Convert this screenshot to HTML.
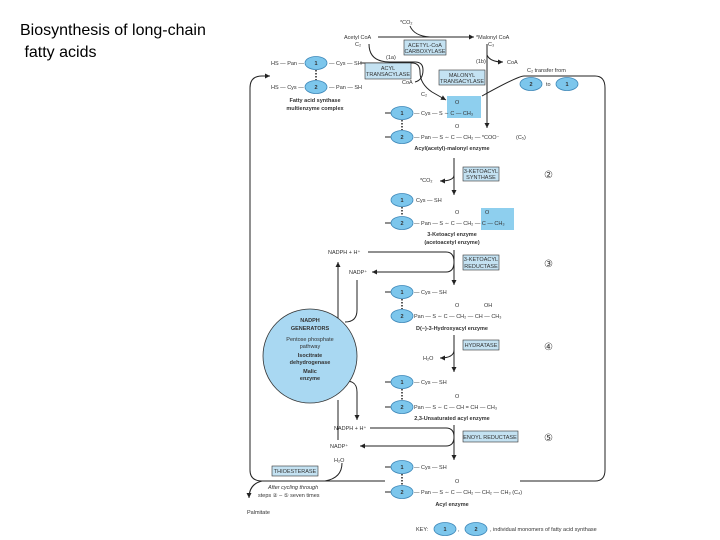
<!DOCTYPE html>
<html><head><style>
html,body{margin:0;padding:0;background:#fff;width:720px;height:540px;overflow:hidden}
.t{position:absolute;left:20px;font-family:"Liberation Sans",sans-serif;font-size:16px;color:#000}
svg{position:absolute;left:0;top:0}
svg text{font-family:"Liberation Sans",sans-serif;font-size:5.5px;fill:#333}
.b{font-weight:bold}
.c{font-size:10px}
</style></head><body>
<div class="t" style="top:22px">Biosynthesis of long-chain</div>
<div class="t" style="top:44px">&nbsp;fatty acids</div>
<svg width="720" height="540" viewBox="0 0 720 540">
<defs>
<marker id="a" markerWidth="6" markerHeight="6" refX="5" refY="3" orient="auto" markerUnits="userSpaceOnUse"><path d="M0,0.5 L5,3 L0,5.5z" fill="#222"/></marker>
<g id="e1"><ellipse rx="11" ry="6.5" fill="#7cc6ec" stroke="#3b86b8" stroke-width="0.8"/></g>
</defs>
<g fill="none" stroke="#222" stroke-width="1">
<path d="M268,76 L262,76 Q250,76 250,88 L250,470 Q250,481 262,481 L385,481"/>
<path d="M262,76 L270,76" marker-end="url(#a)"/>
<path d="M520,481 L595,481 Q605,481 605,470 L605,88 Q605,76 595,76 L524,76 Q518,76 482,96"/>
<path d="M378,37 L474,37" marker-end="url(#a)"/>
<path d="M410,26 Q414,36 430,37"/>
<path d="M369,44 Q369,62 390,62 L415,62 Q423,62 423,70 Q423,80 415,82"/>
<path d="M360,63 L412,63 Q420,63 420,72 Q420,84 432,92 L446,100" marker-end="url(#a)"/>
<path d="M487,44 L487,128" marker-end="url(#a)"/>
<path d="M487,55 Q490,62 503,62" marker-end="url(#a)"/>
<path d="M454,158 L454,195" marker-end="url(#a)"/>
<path d="M454,175 Q454,181 440,181" marker-end="url(#a)"/>
<path d="M454,250 L454,285" marker-end="url(#a)"/>
<path d="M368,252 L446,252 Q454,252 454,262 Q454,272 446,272 L372,272" marker-end="url(#a)"/>
<path d="M454,335 L454,372" marker-end="url(#a)"/>
<path d="M454,350 Q454,358 440,358" marker-end="url(#a)"/>
<path d="M454,425 L454,460" marker-end="url(#a)"/>
<path d="M370,428 L446,428 Q454,428 454,437 Q454,446 446,446 L360,446" marker-end="url(#a)"/>
<path d="M338,318 L338,262" marker-end="url(#a)"/>
<path d="M357,280 L357,310 Q357,322 345,322"/>
<path d="M340,382 Q357,378 357,392 L357,420" marker-end="url(#a)"/>
<path d="M338,440 L338,400"/>
<path d="M342,463 Q342,478 325,481"/>
<path d="M262,481 Q249,484 249,498" marker-end="url(#a)"/>
<path d="M385,113 L391,113 M385,137 L391,137 M385,223 L391,223 M385,292 L391,292 M385,382 L391,382 M385,407 L391,407 M385,467 L391,467 M385,492 L391,492"/>
</g>
<g stroke="#222" stroke-width="1.5" stroke-dasharray="1.5,1.5">
<path d="M316,70 V80 M402,120 V130 M402,207 V216 M402,299 V309 M402,389 V400 M402,474 V485"/>
</g>
<rect x="447" y="96" width="34" height="22" fill="#8ecfee"/>
<rect x="481" y="208" width="33" height="22" fill="#8ecfee"/>
<g fill="#c4e2f2" stroke="#333" stroke-width="0.6">
<rect x="404" y="40" width="42" height="15"/>
<rect x="365" y="63" width="46" height="16"/>
<rect x="439" y="70" width="46" height="15"/>
<rect x="463" y="167" width="36" height="14"/>
<rect x="463" y="255" width="36" height="15"/>
<rect x="463" y="340" width="36" height="10"/>
<rect x="463" y="431" width="55" height="11"/>
<rect x="272" y="466" width="46" height="10"/>
</g>
<g text-anchor="middle" font-size="5">
<text x="425" y="47">ACETYL-CoA</text><text x="425" y="53">CARBOXYLASE</text>
<text x="388" y="70">ACYL</text><text x="388" y="76">TRANSACYLASE</text>
<text x="462" y="77">MALONYL</text><text x="462" y="83">TRANSACYLASE</text>
<text x="481" y="173">3-KETOACYL</text><text x="481" y="179">SYNTHASE</text>
<text x="481" y="261">3-KETOACYL</text><text x="481" y="268">REDUCTASE</text>
<text x="481" y="347">HYDRATASE</text>
<text x="490" y="439">ENOYL REDUCTASE</text>
<text x="295" y="473">THIOESTERASE</text>
</g>
<circle cx="310" cy="356" r="47" fill="#a9d8f2" stroke="#333" stroke-width="0.8"/>
<g text-anchor="middle">
<text x="310" y="322" class="b">NADPH</text><text x="310" y="330" class="b">GENERATORS</text>
<text x="310" y="341">Pentose phosphate</text><text x="310" y="348">pathway</text>
<text x="310" y="357" class="b">Isocitrate</text><text x="310" y="364" class="b">dehydrogenase</text>
<text x="310" y="373" class="b">Malic</text><text x="310" y="380" class="b">enzyme</text>
</g>
<g>
<use href="#e1" x="316" y="63"/><use href="#e1" x="316" y="87"/>
<use href="#e1" x="531" y="84"/><use href="#e1" x="567" y="84"/>
<use href="#e1" x="402" y="113"/><use href="#e1" x="402" y="137"/>
<use href="#e1" x="402" y="200"/><use href="#e1" x="402" y="223"/>
<use href="#e1" x="402" y="292"/><use href="#e1" x="402" y="316"/>
<use href="#e1" x="402" y="382"/><use href="#e1" x="402" y="407"/>
<use href="#e1" x="402" y="467"/><use href="#e1" x="402" y="492"/>
<use href="#e1" x="445" y="529"/><use href="#e1" x="476" y="529"/>
</g>
<g text-anchor="middle">
<text x="316" y="65" class="b">1</text><text x="316" y="89" class="b">2</text>
<text x="531" y="86" class="b">2</text><text x="567" y="86" class="b">1</text>
<text x="402" y="115" class="b">1</text><text x="402" y="139" class="b">2</text>
<text x="402" y="202" class="b">1</text><text x="402" y="225" class="b">2</text>
<text x="402" y="294" class="b">1</text><text x="402" y="318" class="b">2</text>
<text x="402" y="384" class="b">1</text><text x="402" y="409" class="b">2</text>
<text x="402" y="469" class="b">1</text><text x="402" y="494" class="b">2</text>
<text x="445" y="531" class="b">1</text><text x="476" y="531" class="b">2</text>
</g>
<text x="400" y="24">*CO₂</text>
<text x="344" y="39">Acetyl CoA</text><text x="355" y="46">C₂</text>
<text x="476" y="39">*Malonyl CoA</text><text x="488" y="46">C₃</text>
<text x="386" y="59">(1a)</text><text x="476" y="63">(1b)</text>
<text x="507" y="64">CoA</text>
<text x="527" y="72">C₂ transfer from</text><text x="546" y="86">to</text>
<text x="271" y="65">HS — Pan —</text><text x="329" y="65">— Cys — SH</text>
<text x="271" y="89">HS — Cys —</text><text x="329" y="89">— Pan — SH</text>
<g text-anchor="middle" class="b"><text x="315" y="102">Fatty acid synthase</text><text x="315" y="110">multienzyme complex</text></g>
<text x="402" y="84">CoA</text><text x="421" y="96">C₂</text>
<text x="414" y="115">— Cys — S ∼ C — CH₃</text><text x="455" y="104">O</text>
<text x="414" y="139">— Pan — S ∼ C — CH₂ — *COO⁻</text><text x="455" y="128">O</text>
<text x="516" y="139">(C₅)</text>
<text x="452" y="150" text-anchor="middle" class="b">Acyl(acetyl)-malonyl enzyme</text>
<text x="420" y="182">*CO₂</text>
<text x="544" y="178" class="c">②</text>
<text x="416" y="202">Cys — SH</text>
<text x="414" y="225">— Pan — S ∼ C — CH₂ — C — CH₃</text><text x="455" y="214">O</text><text x="485" y="214">O</text>
<g text-anchor="middle" class="b"><text x="452" y="236">3-Ketoacyl enzyme</text><text x="452" y="244">(acetoacetyl enzyme)</text></g>
<text x="328" y="254">NADPH + H⁺</text><text x="349" y="274">NADP⁺</text>
<text x="544" y="267" class="c">③</text>
<text x="414" y="294">— Cys — SH</text>
<text x="414" y="318">Pan — S ∼ C — CH₂ — CH — CH₃</text><text x="455" y="307">O</text><text x="484" y="307">OH</text>
<text x="452" y="330" text-anchor="middle" class="b">D(−)-3-Hydroxyacyl enzyme</text>
<text x="544" y="350" class="c">④</text><text x="423" y="360">H₂O</text>
<text x="414" y="384">— Cys — SH</text>
<text x="414" y="409">Pan — S ∼ C — CH = CH — CH₃</text><text x="455" y="398">O</text>
<text x="452" y="420" text-anchor="middle" class="b">2,3-Unsaturated acyl enzyme</text>
<text x="334" y="430">NADPH + H⁺</text><text x="330" y="448">NADP⁺</text>
<text x="544" y="441" class="c">⑤</text><text x="334" y="462">H₂O</text>
<text x="414" y="469">— Cys — SH</text>
<text x="414" y="494">— Pan — S ∼ C — CH₂ — CH₂ — CH₃   (C₄)</text><text x="455" y="483">O</text>
<text x="452" y="506" text-anchor="middle" class="b">Acyl enzyme</text>
<text x="268" y="489" font-style="italic">After cycling through</text>
<text x="258" y="497">steps ② – ⑤ seven times</text>
<text x="247" y="514">Palmitate</text>
<text x="416" y="531">KEY:</text><text x="458" y="531">,</text>
<text x="490" y="531">, individual monomers of fatty acid synthase</text>
</svg>
</body></html>
